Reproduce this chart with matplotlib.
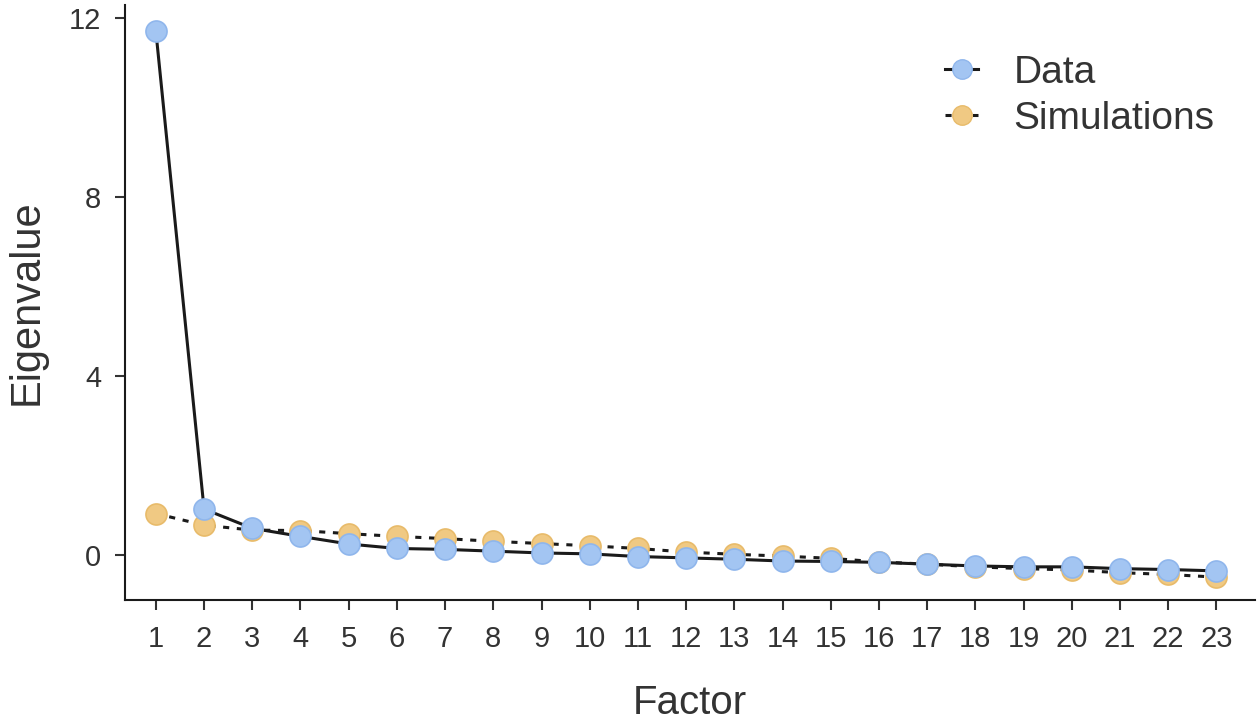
import matplotlib
matplotlib.use("Agg")
import matplotlib.pyplot as plt
from matplotlib.lines import Line2D

plt.rcParams['font.family'] = ['Liberation Sans', 'DejaVu Sans']

factors = list(range(1, 24))
data_eig = [11.7, 1.03, 0.60, 0.42, 0.25, 0.15, 0.13, 0.09, 0.05, 0.03, -0.03,
            -0.06, -0.09, -0.13, -0.14, -0.16, -0.20, -0.24, -0.26, -0.26, -0.30, -0.32, -0.35]
sim_eig = [0.93, 0.67, 0.56, 0.55, 0.48, 0.42, 0.37, 0.31, 0.26, 0.21, 0.15,
           0.07, 0.02, -0.02, -0.07, -0.15, -0.20, -0.26, -0.30, -0.33, -0.39, -0.43, -0.49]
yticks = [0, 4, 8, 12]

blue = '#a3c5f2'
blue_edge = '#8fb6ec'
orange = '#f0c983'
orange_edge = '#e8bb6a'
txt = '#333333'

fig = plt.figure(figsize=(12.59, 7.23), dpi=100)
ax = fig.add_axes([125/1259, 1-600/723, (1255-125)/1259, (600-5)/723])

ax.plot(factors, sim_eig, color='#1a1a1a', lw=2.2, ls=(0, (2, 2.5)), zorder=2)
ax.plot(factors, data_eig, color='#1a1a1a', lw=2.2, zorder=2)
ax.scatter(factors, sim_eig, s=230, color=orange, edgecolor=orange_edge, lw=1.2, zorder=3)
ax.scatter(factors, data_eig, s=230, color=blue, edgecolor=blue_edge, lw=1.2, zorder=4)

ax.set_xlim(0.36, 23.8)
ax.set_ylim(-1.0, 12.28)
ax.set_xticks(factors)
ax.set_yticks(yticks)
ax.tick_params(axis='both', labelsize=21, colors=txt, length=7, width=1.5, labelcolor=txt)
ax.tick_params(axis='x', pad=11)
ax.tick_params(axis='y', pad=10)
for s in ['top', 'right']:
    ax.spines[s].set_visible(False)
for s in ['left', 'bottom']:
    ax.spines[s].set_linewidth(1.5)
    ax.spines[s].set_color('#1a1a1a')

ax.set_xlabel('Factor', fontsize=29, color=txt, labelpad=22)
ax.set_ylabel('Eigenvalue', fontsize=30, color=txt, labelpad=16)

handles = [
    Line2D([], [], color='#1a1a1a', lw=2.2, marker='o', markersize=14,
           markerfacecolor=blue, markeredgecolor=blue_edge),
    Line2D([], [], color='#1a1a1a', lw=2.2, ls=(0, (2, 2.5)), marker='o', markersize=14,
           markerfacecolor=orange, markeredgecolor=orange_edge),
]
leg = ax.legend(handles, ['Data', 'Simulations'], loc='upper right', bbox_to_anchor=(0.995, 0.975),
                frameon=False, fontsize=28, handlelength=0.85, handletextpad=0.9,
                labelspacing=0.25, labelcolor=txt)

fig.savefig('out.png', dpi=100)
